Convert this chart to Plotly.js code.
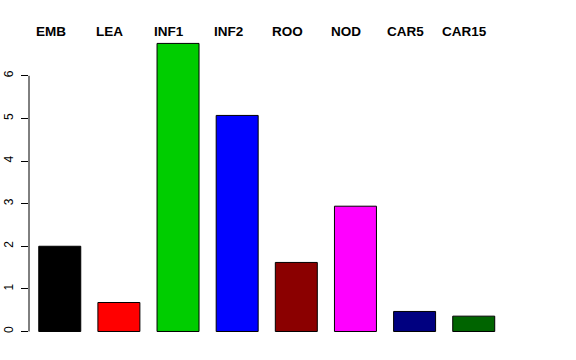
<!DOCTYPE html>
<html>
<head>
<meta charset="utf-8">
<script src="https://cdn.plot.ly/plotly-3.0.1.min.js"></script>
<style>html,body{margin:0;padding:0;background:#fff;}#chart{width:576px;height:360px;}</style>
</head>
<body>
<div id="chart"></div>
<script>
const categories = ["EMB", "LEA", "INF1", "INF2", "ROO", "NOD", "CAR5", "CAR15"];
const values = [2.0, 0.68, 6.76, 5.07, 1.62, 2.94, 0.47, 0.36];
const barColors = ["#000000", "#FF0000", "#00CD00", "#0000FF", "#8B0000", "#FF00FF", "#000080", "#006400"];
const yTicks = [0, 1, 2, 3, 4, 5, 6];

const trace = {
  type: "bar",
  x: categories,
  y: values,
  marker: { color: barColors, line: { color: "#000000", width: 1 } },
  hoverinfo: "none"
};

const annotations = categories.map(c => ({
  x: c, xref: "x", y: 1, yref: "paper",
  text: c, showarrow: false,
  xanchor: "center", yanchor: "middle",
  xshift: -9, yshift: 9,
  font: { family: "Liberation Sans, Arial, sans-serif", size: 13.5, color: "#000000", weight: "bold" }
}));

const layout = {
  width: 576, height: 360,
  margin: { l: 29, r: 30, t: 40, b: 15 },
  paper_bgcolor: "#ffffff", plot_bgcolor: "#ffffff",
  showlegend: false,
  bargap: 0.29,
  xaxis: {
    type: "category", range: [-0.52, 8.222],
    visible: false, showgrid: false, zeroline: false, fixedrange: true
  },
  yaxis: {
    range: [-0.317, 6.84],
    tickvals: yTicks, ticktext: yTicks.map(String),
    ticks: "outside", ticklen: 7, tickwidth: 1, tickcolor: "#000000",
    tickangle: -90, ticklabelstandoff: 3,
    showline: false, showgrid: false, zeroline: false,
    tickfont: { family: "Liberation Sans, Arial, sans-serif", size: 12, color: "#000000" }
  },
  shapes: [{
    type: "line", xref: "paper", yref: "y",
    x0: 0, x1: 0, y0: yTicks[0], y1: yTicks[yTicks.length - 1],
    line: { color: "#000000", width: 1 }
  }],
  annotations: annotations
};

Plotly.newPlot("chart", [trace], layout, { staticPlot: true, displayModeBar: false });
</script>
</body>
</html>
